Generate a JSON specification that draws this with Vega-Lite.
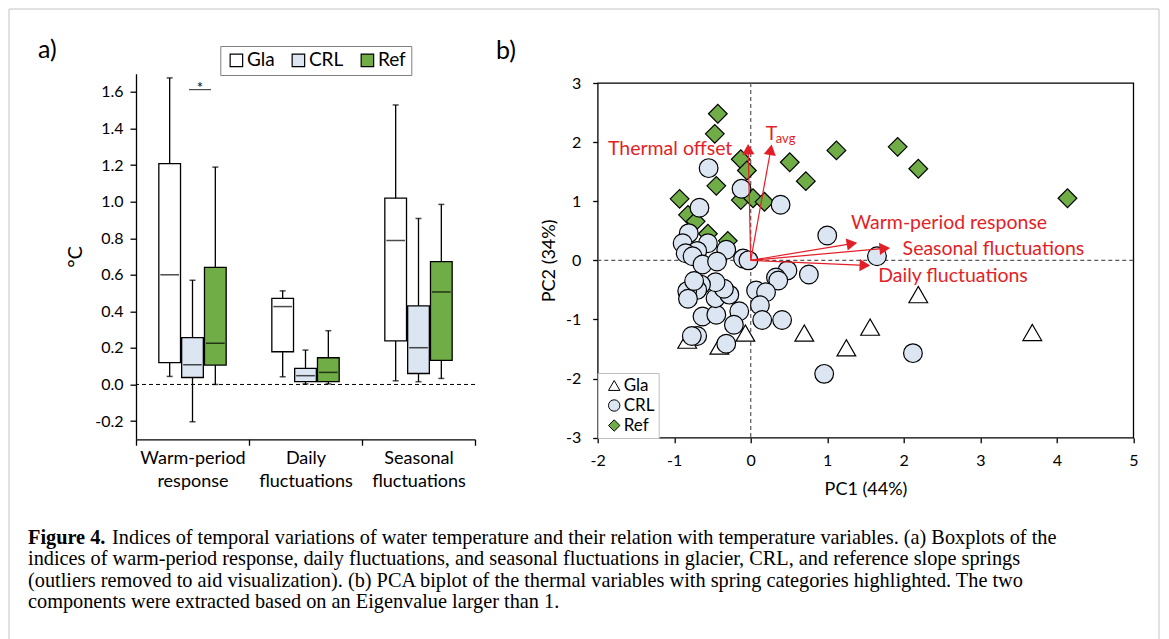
{
  "$schema": "https://vega.github.io/schema/vega-lite/v6.json",
  "background": "white",
  "padding": {"left": 8, "top": 8, "right": 0, "bottom": 0},
  "autosize": {"type": "pad"},
  "bounds": "flush",
  "spacing": 126,
  "resolve": {"scale": {"fill": "independent", "shape": "independent", "stroke": "independent"}, "legend": {"fill": "independent", "shape": "independent", "stroke": "independent"}},
  "datasets": {
    "boxes": [
      {"index": "Warm-period response", "site": "Gla", "min": 0.044, "q1": 0.119, "median": 0.6, "q3": 1.208, "max": 1.677},
      {"index": "Warm-period response", "site": "CRL", "min": -0.204, "q1": 0.038, "median": 0.108, "q3": 0.256, "max": 0.57},
      {"index": "Warm-period response", "site": "Ref", "min": 0.0, "q1": 0.106, "median": 0.225, "q3": 0.641, "max": 1.189},
      {"index": "Daily fluctuations", "site": "Gla", "min": 0.042, "q1": 0.179, "median": 0.426, "q3": 0.471, "max": 0.512},
      {"index": "Daily fluctuations", "site": "CRL", "min": 0.003, "q1": 0.015, "median": 0.048, "q3": 0.088, "max": 0.188},
      {"index": "Daily fluctuations", "site": "Ref", "min": 0.003, "q1": 0.015, "median": 0.066, "q3": 0.146, "max": 0.294},
      {"index": "Seasonal fluctuations", "site": "Gla", "min": 0.02, "q1": 0.238, "median": 0.787, "q3": 1.019, "max": 1.529},
      {"index": "Seasonal fluctuations", "site": "CRL", "min": 0.015, "q1": 0.06, "median": 0.201, "q3": 0.43, "max": 0.908},
      {"index": "Seasonal fluctuations", "site": "Ref", "min": 0.033, "q1": 0.132, "median": 0.506, "q3": 0.672, "max": 0.985}
    ],
    "sig": [{"index": "Warm-period response", "y": 1.613, "ys": 1.595, "label": "*"}],
    "points": [
      {"site": "Gla", "pc1": 2.19, "pc2": -0.58},
      {"site": "Gla", "pc1": 1.56, "pc2": -1.13},
      {"site": "Gla", "pc1": 1.25, "pc2": -1.48},
      {"site": "Gla", "pc1": 0.7, "pc2": -1.23},
      {"site": "Gla", "pc1": -0.07, "pc2": -1.23},
      {"site": "Gla", "pc1": 3.68, "pc2": -1.22},
      {"site": "Gla", "pc1": -0.83, "pc2": -1.35},
      {"site": "Gla", "pc1": -0.41, "pc2": -1.45},
      {"site": "Ref", "pc1": -0.43, "pc2": 2.48},
      {"site": "Ref", "pc1": -0.47, "pc2": 2.14},
      {"site": "Ref", "pc1": -0.13, "pc2": 1.71},
      {"site": "Ref", "pc1": -0.05, "pc2": 1.52},
      {"site": "Ref", "pc1": -0.45, "pc2": 1.26},
      {"site": "Ref", "pc1": -0.93, "pc2": 1.04},
      {"site": "Ref", "pc1": -0.13, "pc2": 1.02},
      {"site": "Ref", "pc1": 0.03, "pc2": 1.05},
      {"site": "Ref", "pc1": 0.18, "pc2": 0.99},
      {"site": "Ref", "pc1": 0.51, "pc2": 1.66},
      {"site": "Ref", "pc1": 0.72, "pc2": 1.34},
      {"site": "Ref", "pc1": 1.12, "pc2": 1.86},
      {"site": "Ref", "pc1": 1.92, "pc2": 1.92},
      {"site": "Ref", "pc1": 2.19, "pc2": 1.55},
      {"site": "Ref", "pc1": 4.14, "pc2": 1.05},
      {"site": "Ref", "pc1": -0.82, "pc2": 0.77},
      {"site": "Ref", "pc1": -0.72, "pc2": 0.66},
      {"site": "Ref", "pc1": -0.56, "pc2": 0.45},
      {"site": "Ref", "pc1": -0.3, "pc2": 0.33},
      {"site": "CRL", "pc1": -0.55, "pc2": 1.56},
      {"site": "CRL", "pc1": -0.12, "pc2": 1.21},
      {"site": "CRL", "pc1": 0.39, "pc2": 0.94},
      {"site": "CRL", "pc1": -0.67, "pc2": 0.89},
      {"site": "CRL", "pc1": -0.81, "pc2": 0.46},
      {"site": "CRL", "pc1": -0.89, "pc2": 0.29},
      {"site": "CRL", "pc1": -0.56, "pc2": 0.29},
      {"site": "CRL", "pc1": -0.32, "pc2": 0.18},
      {"site": "CRL", "pc1": -0.7, "pc2": 0.16},
      {"site": "CRL", "pc1": -0.85, "pc2": 0.12},
      {"site": "CRL", "pc1": -0.76, "pc2": 0.07},
      {"site": "CRL", "pc1": -0.63, "pc2": -0.07},
      {"site": "CRL", "pc1": -0.44, "pc2": -0.02},
      {"site": "CRL", "pc1": -0.1, "pc2": 0.03},
      {"site": "CRL", "pc1": -0.03, "pc2": 0.0},
      {"site": "CRL", "pc1": 1.0, "pc2": 0.42},
      {"site": "CRL", "pc1": 1.65, "pc2": 0.07},
      {"site": "CRL", "pc1": 0.48, "pc2": -0.17},
      {"site": "CRL", "pc1": 0.33, "pc2": -0.29},
      {"site": "CRL", "pc1": 0.36, "pc2": -0.34},
      {"site": "CRL", "pc1": 0.76, "pc2": -0.24},
      {"site": "CRL", "pc1": 0.07, "pc2": -0.51},
      {"site": "CRL", "pc1": 0.2, "pc2": -0.54},
      {"site": "CRL", "pc1": 0.12, "pc2": -0.76},
      {"site": "CRL", "pc1": 0.15, "pc2": -1.01},
      {"site": "CRL", "pc1": 0.41, "pc2": -1.01},
      {"site": "CRL", "pc1": -0.15, "pc2": -0.86},
      {"site": "CRL", "pc1": -0.22, "pc2": -1.09},
      {"site": "CRL", "pc1": -0.32, "pc2": -1.41},
      {"site": "CRL", "pc1": -0.7, "pc2": -1.28},
      {"site": "CRL", "pc1": -0.77, "pc2": -1.28},
      {"site": "CRL", "pc1": -0.63, "pc2": -0.95},
      {"site": "CRL", "pc1": -0.45, "pc2": -0.92},
      {"site": "CRL", "pc1": -0.46, "pc2": -0.64},
      {"site": "CRL", "pc1": -0.28, "pc2": -0.58},
      {"site": "CRL", "pc1": -0.35, "pc2": -0.48},
      {"site": "CRL", "pc1": -0.46, "pc2": -0.37},
      {"site": "CRL", "pc1": -0.65, "pc2": -0.41},
      {"site": "CRL", "pc1": -0.7, "pc2": -0.5},
      {"site": "CRL", "pc1": -0.83, "pc2": -0.52},
      {"site": "CRL", "pc1": -0.82, "pc2": -0.65},
      {"site": "CRL", "pc1": -0.74, "pc2": -0.35},
      {"site": "CRL", "pc1": 0.96, "pc2": -1.92},
      {"site": "CRL", "pc1": 2.12, "pc2": -1.57}
    ],
    "arrows": [
      {"var": "Thermal offset", "ox": 0, "oy": 0, "ex": -0.033, "ey": 1.88},
      {"var": "Tavg", "ox": 0, "oy": 0, "ex": 0.261, "ey": 1.87},
      {"var": "Warm-period response", "ox": 0, "oy": 0, "ex": 1.323, "ey": 0.283},
      {"var": "Seasonal fluctuations", "ox": 0, "oy": 0, "ex": 1.752, "ey": 0.201},
      {"var": "Daily fluctuations", "ox": 0, "oy": 0, "ex": 1.492, "ey": -0.085}
    ],
    "lblL": [
      {"label": "Warm-period response", "lx": 1.31, "ly": 0.536},
      {"label": "Seasonal fluctuations", "lx": 1.985, "ly": 0.096},
      {"label": "Daily fluctuations", "lx": 1.666, "ly": -0.372},
      {"label": "T", "lx": 0.196, "ly": 2.04}
    ],
    "lblR": [{"label": "Thermal offset", "lx": -0.24, "ly": 1.786}],
    "lblSub": [{"label": "avg", "lx": 0.327, "ly": 1.987}],
    "frameTop": [{"x0": 0, "x1": 1150}],
    "cap1b": [{"line": 1, "text": "Figure 4."}],
    "cap1": [{"line": 1, "text": "Indices of temporal variations of water temperature and their relation with temperature variables. (a) Boxplots of the"}],
    "caprest": [
      {"line": 2, "text": "indices of warm-period response, daily fluctuations, and seasonal fluctuations in glacier, CRL, and reference slope springs"},
      {"line": 3, "text": "(outliers removed to aid visualization). (b) PCA biplot of the thermal variables with spring categories highlighted. The two"},
      {"line": 4, "text": "components were extracted based on an Eigenvalue larger than 1."}
    ]
  },
  "hconcat": [
    {
      "width": 1,
      "height": 630,
      "layer": [
        {"data": {"values": [{}]}, "mark": {"type": "rule", "stroke": "#c4c4c4", "strokeWidth": 1},
         "encoding": {"x": {"datum": 0, "type": "quantitative", "scale": {"domain": [0, 1], "nice": false, "zero": false}, "axis": null}}},
        {"data": {"values": [{}]}, "mark": {"type": "rule", "stroke": "#c4c4c4", "strokeWidth": 1},
         "encoding": {"x": {"datum": 1150, "type": "quantitative", "scale": {"domain": [0, 1], "nice": false, "zero": false}, "axis": null}}},
        {"data": {"name": "frameTop"}, "mark": {"type": "rule", "stroke": "#c4c4c4", "strokeWidth": 1},
         "encoding": {"x": {"field": "x0", "type": "quantitative", "scale": {"domain": [0, 1], "nice": false, "zero": false}, "axis": null},
                      "x2": {"field": "x1"},
                      "y": {"datum": -24.08, "type": "quantitative", "scale": {"domain": [-24.08, 5.45], "reverse": true, "nice": false, "zero": false}, "axis": null}}},
        {"data": {"name": "cap1b"}, "mark": {"type": "text", "font": "Liberation Serif", "fontSize": 20.3, "fontWeight": "bold", "align": "left", "baseline": "alphabetic", "color": "black"},
         "encoding": {"x": {"datum": 19, "type": "quantitative", "scale": {"domain": [0, 1], "nice": false, "zero": false}, "axis": null},
                      "y": {"field": "line", "type": "quantitative", "scale": {"domain": [-24.08, 5.45], "reverse": true, "nice": false, "zero": false}, "axis": null},
                      "text": {"field": "text", "type": "nominal"}}},
        {"data": {"name": "cap1"}, "mark": {"type": "text", "font": "Liberation Serif", "fontSize": 20.3, "align": "left", "baseline": "alphabetic", "color": "black", "dx": 84},
         "encoding": {"x": {"datum": 19, "type": "quantitative", "scale": {"domain": [0, 1], "nice": false, "zero": false}, "axis": null},
                      "y": {"field": "line", "type": "quantitative", "scale": {"domain": [-24.08, 5.45], "reverse": true, "nice": false, "zero": false}, "axis": null},
                      "text": {"field": "text", "type": "nominal"}}},
        {"data": {"name": "caprest"}, "mark": {"type": "text", "font": "Liberation Serif", "fontSize": 20.3, "align": "left", "baseline": "alphabetic", "color": "black"},
         "encoding": {"x": {"datum": 19, "type": "quantitative", "scale": {"domain": [0, 1], "nice": false, "zero": false}, "axis": null},
                      "y": {"field": "line", "type": "quantitative", "scale": {"domain": [-24.08, 5.45], "reverse": true, "nice": false, "zero": false}, "axis": null},
                      "text": {"field": "text", "type": "nominal"}}}
      ]
    },
    {
      "bounds": "flush",
      "spacing": 63.7,
      "resolve": {"scale": {"fill": "independent", "shape": "independent", "stroke": "independent"}, "legend": {"fill": "independent", "shape": "independent", "stroke": "independent"}},
      "vconcat": [
        {"width": 1, "height": 1, "data": {"values": []}, "mark": "point"},
        {
          "bounds": "flush",
          "spacing": 122.7,
          "resolve": {"scale": {"fill": "independent", "shape": "independent", "stroke": "independent"}, "legend": {"fill": "independent", "shape": "independent", "stroke": "independent"}},
          "hconcat": [
            {
              "width": 339,
              "height": 365.6,
              "title": {"text": "a)", "anchor": "start", "frame": "group", "dx": -98, "offset": -38, "baseline": "alphabetic", "fontSize": 25},
              "data": {"name": "boxes"},
              "layer": [
                {"mark": {"type": "rule", "stroke": "black", "strokeWidth": 1.3},
                 "encoding": {
                   "x": {"field": "index", "type": "nominal", "title": null, "sort": ["Warm-period response", "Daily fluctuations", "Seasonal fluctuations"], "scale": {"paddingInner": 0, "paddingOuter": 0},
                         "axis": {"tickBand": "extent", "tickSize": 6, "labelAngle": 0, "labelExpr": "split(datum.label, ' ')", "labelFontSize": 18, "labelLineHeight": 23, "labelPadding": 4, "labelBaseline": "top", "domain": true}},
                   "xOffset": {"field": "site", "type": "nominal", "sort": ["Gla", "CRL", "Ref"], "scale": {"paddingInner": 0.05, "paddingOuter": 1.4}},
                   "y": {"field": "min", "type": "quantitative", "title": "°C", "scale": {"domain": [-0.3, 1.7], "nice": false, "zero": false},
                         "axis": {"title": "°C", "values": [-0.2, 0, 0.2, 0.4, 0.6, 0.8, 1, 1.2, 1.4, 1.6], "labelExpr": "replace(format(datum.value, '.1f'), '\u2212', '-')", "tickSize": 6, "labelPadding": 7, "labelFontSize": 16, "titleFontSize": 20, "titlePadding": 9, "domain": true}},
                   "y2": {"field": "max"}
                 }},
                {"mark": {"type": "bar", "stroke": "black", "strokeWidth": 1.3},
                 "encoding": {
                   "x": {"field": "index", "type": "nominal", "title": null, "sort": ["Warm-period response", "Daily fluctuations", "Seasonal fluctuations"]},
                   "xOffset": {"field": "site", "type": "nominal", "sort": ["Gla", "CRL", "Ref"]},
                   "y": {"field": "q1", "type": "quantitative", "title": "°C"},
                   "y2": {"field": "q3"},
                   "fill": {"field": "site", "type": "nominal", "scale": {"domain": ["Gla", "CRL", "Ref"], "range": ["#ffffff", "#dce6f2", "#70ad47"]},
                            "legend": {"title": null, "orient": "none", "legendX": 84.3, "legendY": -27.7, "direction": "horizontal", "symbolType": "square", "symbolSize": 156, "symbolStrokeColor": "black", "symbolStrokeWidth": 1.2, "labelFontSize": 19, "labelOffset": 1, "symbolOffset": 2, "columnPadding": 12, "padding": 4.6, "strokeColor": "#7f7f7f", "fillColor": "white"}}
                 }},
                {"mark": {"type": "tick", "color": "black", "thickness": 1.5, "size": 18.7},
                 "encoding": {
                   "x": {"field": "index", "type": "nominal", "title": null, "sort": ["Warm-period response", "Daily fluctuations", "Seasonal fluctuations"]},
                   "xOffset": {"field": "site", "type": "nominal", "sort": ["Gla", "CRL", "Ref"]},
                   "y": {"field": "median", "type": "quantitative", "title": "°C"}
                 }},
                {"mark": {"type": "tick", "color": "black", "thickness": 1.5, "size": 6},
                 "encoding": {
                   "x": {"field": "index", "type": "nominal", "title": null, "sort": ["Warm-period response", "Daily fluctuations", "Seasonal fluctuations"]},
                   "xOffset": {"field": "site", "type": "nominal", "sort": ["Gla", "CRL", "Ref"]},
                   "y": {"field": "min", "type": "quantitative", "title": "°C"}
                 }},
                {"mark": {"type": "tick", "color": "black", "thickness": 1.5, "size": 6},
                 "encoding": {
                   "x": {"field": "index", "type": "nominal", "title": null, "sort": ["Warm-period response", "Daily fluctuations", "Seasonal fluctuations"]},
                   "xOffset": {"field": "site", "type": "nominal", "sort": ["Gla", "CRL", "Ref"]},
                   "y": {"field": "max", "type": "quantitative", "title": "°C"}
                 }},
                {"data": {"values": [{"v": 0}]}, "mark": {"type": "rule", "stroke": "black", "strokeWidth": 1, "strokeDash": [4, 3]},
                 "encoding": {"y": {"field": "v", "type": "quantitative", "title": "°C"}}},
                {"data": {"name": "sig"}, "mark": {"type": "tick", "color": "black", "thickness": 1.2, "size": 22, "xOffset": 7.5},
                 "encoding": {
                   "x": {"field": "index", "type": "nominal", "title": null, "sort": ["Warm-period response", "Daily fluctuations", "Seasonal fluctuations"]},
                   "y": {"field": "y", "type": "quantitative", "title": "°C"}
                 }},
                {"data": {"name": "sig"}, "mark": {"type": "text", "dx": 7.5, "fontSize": 15, "baseline": "alphabetic", "color": "black"},
                 "encoding": {
                   "x": {"field": "index", "type": "nominal", "title": null, "sort": ["Warm-period response", "Daily fluctuations", "Seasonal fluctuations"]},
                   "y": {"field": "ys", "type": "quantitative", "title": "°C"},
                   "text": {"field": "label", "type": "nominal"}
                 }}
              ]
            },
            {
              "bounds": "flush",
              "spacing": 8.3,
              "resolve": {"scale": {"fill": "independent", "shape": "independent", "stroke": "independent"}, "legend": {"fill": "independent", "shape": "independent", "stroke": "independent"}},
              "vconcat": [
                {"width": 1, "height": 1, "data": {"values": []}, "mark": "point"},
                {
                  "width": 535.6,
                  "height": 354.7,
                  "view": {"stroke": "black", "strokeWidth": 1.3},
                  "title": {"text": "b)", "anchor": "start", "frame": "group", "dx": -101.7, "offset": -9, "baseline": "alphabetic", "fontSize": 25},
                  "layer": [
                    {"data": {"values": [{}]}, "mark": {"type": "rule", "stroke": "#595959", "strokeWidth": 1.2, "strokeDash": [4, 3]},
                     "encoding": {"x": {"datum": 0, "type": "quantitative", "scale": {"domain": [-2, 5], "nice": false, "zero": false},
                                        "axis": {"title": "PC1 (44%)", "values": [-2, -1, 0, 1, 2, 3, 4, 5], "labelExpr": "datum.value + ''", "domain": false, "tickSize": 5, "labelPadding": 10, "labelFontSize": 16, "labelFlush": false, "titleFontSize": 18, "titlePadding": 12}}}},
                    {"data": {"values": [{}]}, "mark": {"type": "rule", "stroke": "#595959", "strokeWidth": 1.2, "strokeDash": [4, 3]},
                     "encoding": {"y": {"datum": 0, "type": "quantitative", "scale": {"domain": [-3, 3], "nice": false, "zero": false},
                                        "axis": {"title": "PC2 (34%)", "values": [-3, -2, -1, 0, 1, 2, 3], "labelExpr": "datum.value + ''", "domain": false, "tickSize": 5, "labelPadding": 12, "labelFontSize": 16, "titleFontSize": 18, "titlePadding": 7}}}},
                    {"data": {"name": "points"}, "mark": {"type": "point", "filled": true, "size": 350, "strokeWidth": 1.2, "opacity": 1},
                     "encoding": {
                       "x": {"field": "pc1", "type": "quantitative", "title": "PC1 (44%)"},
                       "y": {"field": "pc2", "type": "quantitative", "title": "PC2 (34%)"},
                       "shape": {"field": "site", "type": "nominal", "scale": {"domain": ["Gla", "CRL", "Ref"], "range": ["triangle-up", "circle", "diamond"]},
                                 "legend": {"title": null, "orient": "bottom-left", "offset": 0, "padding": 4, "rowPadding": 2, "symbolSize": 130, "symbolStrokeWidth": 1, "labelFontSize": 17, "labelOffset": 1, "symbolOffset": 4, "strokeColor": "#bfbfbf", "fillColor": "white"}},
                       "fill": {"field": "site", "type": "nominal", "scale": {"domain": ["Gla", "CRL", "Ref"], "range": ["#ffffff", "#dce6f2", "#70ad47"]},
                                "legend": {"title": null, "orient": "bottom-left", "offset": 0, "padding": 4, "rowPadding": 2, "symbolSize": 130, "symbolStrokeWidth": 1, "labelFontSize": 17, "labelOffset": 1, "symbolOffset": 4, "strokeColor": "#bfbfbf", "fillColor": "white"}},
                       "stroke": {"field": "site", "type": "nominal", "scale": {"domain": ["Gla", "CRL", "Ref"], "range": ["#000000", "#000000", "#000000"]},
                                  "legend": {"title": null, "orient": "bottom-left", "offset": 0, "padding": 4, "rowPadding": 2, "symbolSize": 130, "symbolStrokeWidth": 1, "labelFontSize": 17, "labelOffset": 1, "symbolOffset": 4, "strokeColor": "#bfbfbf", "fillColor": "white"}}
                     }},
                    {"data": {"name": "arrows"}, "mark": {"type": "rule", "stroke": "#e41e26", "strokeWidth": 1.2},
                     "encoding": {"x": {"field": "ox", "type": "quantitative", "title": "PC1 (44%)"}, "y": {"field": "oy", "type": "quantitative", "title": "PC2 (34%)"}, "x2": {"field": "ex"}, "y2": {"field": "ey"}}},
                    {"data": {"name": "arrows"}, "transform": [{"calculate": "atan2(datum.ex * 76.514, datum.ey * 59.117) * 180 / PI", "as": "ang"}],
                     "mark": {"type": "point", "shape": "triangle-up", "filled": true, "color": "#e41e26", "size": 150, "opacity": 1, "strokeWidth": 0},
                     "encoding": {
                       "x": {"field": "ex", "type": "quantitative", "title": "PC1 (44%)"},
                       "y": {"field": "ey", "type": "quantitative", "title": "PC2 (34%)"},
                       "angle": {"field": "ang", "type": "quantitative", "scale": null}
                     }},
                    {"data": {"name": "lblL"}, "mark": {"type": "text", "align": "left", "baseline": "alphabetic", "color": "#e41e26", "fontSize": 19.5},
                     "encoding": {"x": {"field": "lx", "type": "quantitative", "title": "PC1 (44%)"}, "y": {"field": "ly", "type": "quantitative", "title": "PC2 (34%)"}, "text": {"field": "label", "type": "nominal"}}},
                    {"data": {"name": "lblR"}, "mark": {"type": "text", "align": "right", "baseline": "alphabetic", "color": "#e41e26", "fontSize": 19.5},
                     "encoding": {"x": {"field": "lx", "type": "quantitative", "title": "PC1 (44%)"}, "y": {"field": "ly", "type": "quantitative", "title": "PC2 (34%)"}, "text": {"field": "label", "type": "nominal"}}},
                    {"data": {"name": "lblSub"}, "mark": {"type": "text", "align": "left", "baseline": "alphabetic", "color": "#e41e26", "fontSize": 13},
                     "encoding": {"x": {"field": "lx", "type": "quantitative", "title": "PC1 (44%)"}, "y": {"field": "ly", "type": "quantitative", "title": "PC2 (34%)"}, "text": {"field": "label", "type": "nominal"}}}
                  ]
                }
              ]
            }
          ]
        }
      ]
    }
  ],
  "config": {
    "font": "Lato",
    "view": {"stroke": null},
    "axis": {"labelColor": "black", "titleColor": "black", "tickColor": "black", "domainColor": "black", "domainWidth": 1.3, "tickWidth": 1.3, "grid": false, "labelFont": "Lato", "titleFont": "Lato", "titleFontWeight": "normal"},
    "legend": {"labelFont": "Lato", "labelColor": "black"},
    "title": {"font": "Lato", "fontWeight": "normal", "color": "black"},
    "text": {"font": "Lato"}
  }
}
